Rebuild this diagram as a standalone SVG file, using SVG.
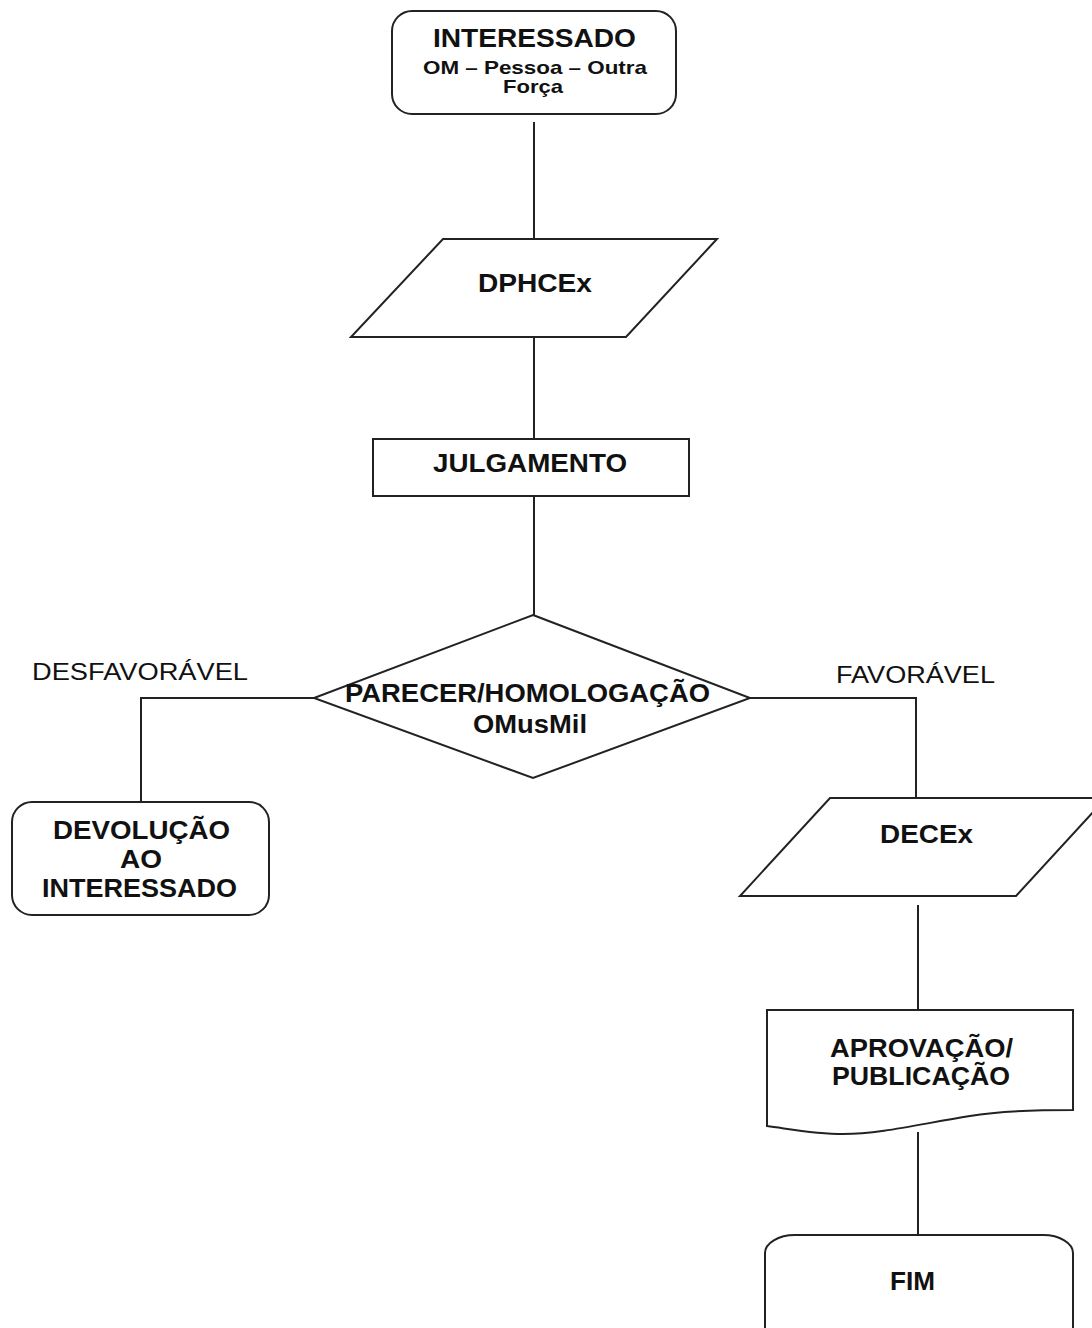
<svg xmlns="http://www.w3.org/2000/svg" width="1092" height="1328" viewBox="0 0 1092 1328">
<style>
.shape{fill:#fff;stroke:#222;stroke-width:2}
.line{fill:none;stroke:#222;stroke-width:2}
.t{font-family:"Liberation Sans",Arial,sans-serif;font-weight:bold;fill:#111}
.lbl{font-family:"Liberation Sans",Arial,sans-serif;font-weight:normal;fill:#111;font-size:23px}
</style>
<rect width="1092" height="1328" fill="#fff"/>
<g id="connectors">
<line class="line" x1="534" y1="122" x2="534" y2="239"/>
<line class="line" x1="534" y1="337" x2="534" y2="439"/>
<line class="line" x1="534" y1="496" x2="534" y2="615"/>
<polyline class="line" points="314,698 141,698 141,802"/>
<polyline class="line" points="750,698 916,698 916,798"/>
<line class="line" x1="918" y1="905" x2="918" y2="1010"/>
<line class="line" x1="918" y1="1132" x2="918" y2="1235"/>
</g>
<g id="label-desfavoravel"><text class="lbl" x="32" y="680" textLength="216" lengthAdjust="spacingAndGlyphs">DESFAVORÁVEL</text></g>
<g id="label-favoravel"><text class="lbl" x="836" y="683" textLength="159" lengthAdjust="spacingAndGlyphs">FAVORÁVEL</text></g>
<g id="node-interessado">
<rect class="shape" x="392" y="11" width="284" height="103" rx="20" ry="20"/>
<text class="t" x="433" y="47" font-size="25" textLength="203" lengthAdjust="spacingAndGlyphs">INTERESSADO</text>
<text class="t" x="423" y="74" font-size="19" textLength="224" lengthAdjust="spacingAndGlyphs">OM – Pessoa – Outra</text>
<text class="t" x="503" y="93" font-size="19" textLength="60" lengthAdjust="spacingAndGlyphs">Força</text>
</g>
<g id="node-dphcex">
<polygon class="shape" points="443,239 717,239 626,337 351,337"/>
<text class="t" x="478" y="292" font-size="26" textLength="114" lengthAdjust="spacingAndGlyphs">DPHCEx</text>
</g>
<g id="node-julgamento">
<rect class="shape" x="373" y="439" width="316" height="57"/>
<text class="t" x="433" y="472" font-size="26" textLength="194" lengthAdjust="spacingAndGlyphs">JULGAMENTO</text>
</g>
<g id="node-parecer">
<polygon class="shape" points="533,615 750,698 533,778 314,698"/>
<text class="t" x="345" y="702" font-size="25" textLength="365" lengthAdjust="spacingAndGlyphs">PARECER/HOMOLOGAÇÃO</text>
<text class="t" x="473" y="733" font-size="25" textLength="114" lengthAdjust="spacingAndGlyphs">OMusMil</text>
</g>
<g id="node-devolucao">
<rect class="shape" x="12" y="802" width="257" height="113" rx="20" ry="20"/>
<text class="t" x="53" y="839" font-size="25" textLength="177" lengthAdjust="spacingAndGlyphs">DEVOLUÇÃO</text>
<text class="t" x="120" y="868" font-size="25" textLength="42" lengthAdjust="spacingAndGlyphs">AO</text>
<text class="t" x="42" y="897" font-size="25" textLength="195" lengthAdjust="spacingAndGlyphs">INTERESSADO</text>
</g>
<g id="node-decex">
<polygon class="shape" points="830,798 1106,798 1016,896 740,896"/>
<text class="t" x="880" y="843" font-size="26" textLength="93" lengthAdjust="spacingAndGlyphs">DECEx</text>
</g>
<g id="node-aprovacao">
<path class="shape" d="M767,1010 L1073,1010 L1073,1110 C1030,1110 1000,1111 970,1116 C920,1124 880,1134 843,1134 C815,1134 790,1129 767,1126 Z"/>
<text class="t" x="830" y="1057" font-size="25" textLength="183" lengthAdjust="spacingAndGlyphs">APROVAÇÃO/</text>
<text class="t" x="832" y="1085" font-size="25" textLength="178" lengthAdjust="spacingAndGlyphs">PUBLICAÇÃO</text>
</g>
<g id="node-fim">
<rect class="shape" x="765" y="1235" width="308" height="110" rx="30" ry="18"/>
<text class="t" x="890" y="1290" font-size="25" textLength="45" lengthAdjust="spacingAndGlyphs">FIM</text>
</g>
</svg>
